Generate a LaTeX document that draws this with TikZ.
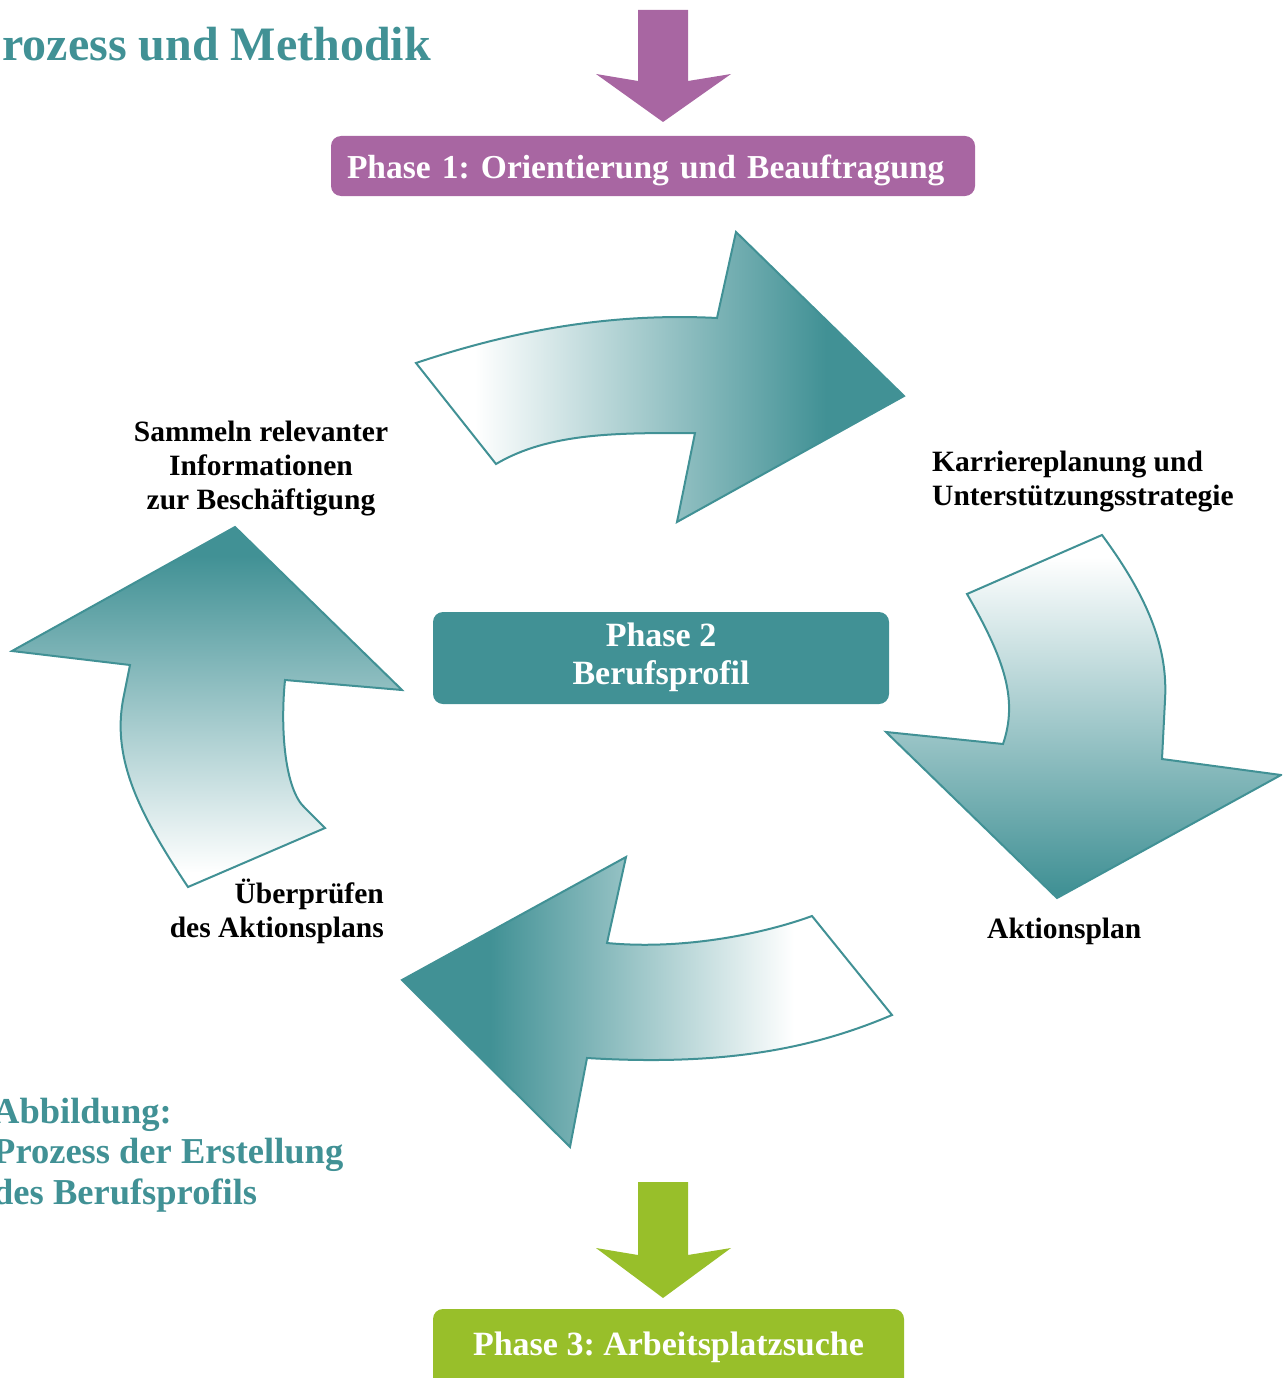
\documentclass[tikz,border=0pt]{standalone}
\usepackage{fontspec}
\setmainfont{Liberation Serif}
\frenchspacing

\definecolor{tealc}{RGB}{65,145,149}
\definecolor{purplec}{RGB}{168,102,162}
\definecolor{greenc}{RGB}{152,191,42}

% fades for the four cycle arrows (0bp = left / bottom)
\pgfdeclarehorizontalshading{faderight}{100bp}{color(0bp)=(white); color(31bp)=(white); color(67bp)=(tealc); color(100bp)=(tealc)}
\pgfdeclarehorizontalshading{fadeleft}{100bp}{color(0bp)=(tealc); color(34bp)=(tealc); color(65bp)=(white); color(100bp)=(white)}
\pgfdeclareverticalshading{fadedown}{100bp}{color(0bp)=(tealc); color(26bp)=(tealc); color(72bp)=(white); color(100bp)=(white)}
\pgfdeclareverticalshading{fadeup}{100bp}{color(0bp)=(white); color(27bp)=(white); color(71bp)=(tealc); color(100bp)=(tealc)}

\begin{document}
\begin{tikzpicture}[x=1pt, y=-1pt,
  phase/.style={rounded corners=10, text=white, inner xsep=16, inner ysep=0,
    font=\bfseries\fontsize{34}{38}\selectfont},
  lbl/.style={inner sep=0, text=black, font=\bfseries\fontsize{29.5}{34}\selectfont},
  heading/.style={inner sep=0, text=tealc},
  cyc/.style={draw=tealc, line width=2, line join=miter}]

\useasboundingbox (0,0) rectangle (1282,1378);
\clip (0,0) rectangle (1282,1378);

% heading and caption
\node[heading, anchor=base east, font=\bfseries\fontsize{48}{56}\selectfont] (title) at (431,61) {Prozess und Methodik};
\node[heading, anchor=base west, font=\bfseries\fontsize{36.5}{40.5}\selectfont] (caption) at (-7,1123)
  {\begin{tabular}[t]{@{}l@{}}Abbildung:\\Prozess der Erstellung\\des Berufsprofils\end{tabular}};

% entry arrow and phase 1
\fill[purplec] (638,10) -- (688,10) -- (688,81) -- (731,74) -- (663,122) -- (596,74) -- (638,81) -- cycle;
\node[phase, fill=purplec, minimum width=644, minimum height=60, text width=612, align=left,
  text height=30, text depth=6, font=\bfseries\fontsize{33.5}{38}\selectfont] (p1) at (653,166)
  {\mbox{Phase 1: Orientierung und Beauftragung}};

% phase 2 in the middle of the cycle
\node[phase, fill=tealc, minimum width=456, minimum height=92] (p2) at (661,658)
  {\begin{tabular}[t]{@{}c@{}}Phase 2\\Berufsprofil\end{tabular}};

% exit arrow and phase 3
\fill[greenc] (638,1182) -- (688,1182) -- (688,1255) -- (731,1248) -- (663,1298) -- (596,1248) -- (638,1255) -- cycle;
\node[phase, fill=greenc, minimum width=471, minimum height=92, text height=12, text depth=12] (p3) at (668.5,1355)
  {Phase 3: Arbeitsplatzsuche};

% cycle arrows
\shadedraw[cyc, shading=faderight]
  (416,363) .. controls (500,335) and (600,312) .. (717,318)
  -- (736,232) -- (904,396) -- (677,522) -- (695,433)
  .. controls (620,433) and (550,432) .. (496,464) -- cycle;

\shadedraw[cyc, shading=fadedown]
  (967,594) -- (1102,535)
  .. controls (1150,600) and (1168,650) .. (1165,700) -- (1162,759)
  -- (1281,775) -- (1057,898) -- (886,732) -- (1003,744)
  .. controls (1018,700) and (1005,660) .. cycle;

\shadedraw[cyc, shading=fadeleft]
  (402,980) -- (626,857) -- (607,943)
  .. controls (680,950) and (760,935) .. (812,916)
  -- (892,1015)
  .. controls (810,1050) and (720,1066) .. (587,1058)
  -- (570,1147) -- cycle;

\shadedraw[cyc, shading=fadeup]
  (235,527) -- (402,690) -- (285,680)
  .. controls (280,730) and (285,790) .. (305,808) -- (325,828)
  -- (188,887)
  .. controls (140,815) and (112,760) .. (123,700) -- (130,665)
  -- (12,651) -- cycle;

% step labels
\node[lbl, anchor=base] (collect) at (261,441)
  {\begin{tabular}[t]{@{}c@{}}Sammeln relevanter\\Informationen\\zur Beschäftigung\end{tabular}};
\node[lbl, anchor=base west] (plan) at (932,471)
  {\begin{tabular}[t]{@{}l@{}}Karriereplanung und\\Unterstützungsstrategie\end{tabular}};
\node[lbl, anchor=base west] (action) at (987,938) {Aktionsplan};
\node[lbl, anchor=base east] (review) at (384,903)
  {\begin{tabular}[t]{@{}r@{}}Überprüfen\\des Aktionsplans\end{tabular}};
\end{tikzpicture}
\end{document}
